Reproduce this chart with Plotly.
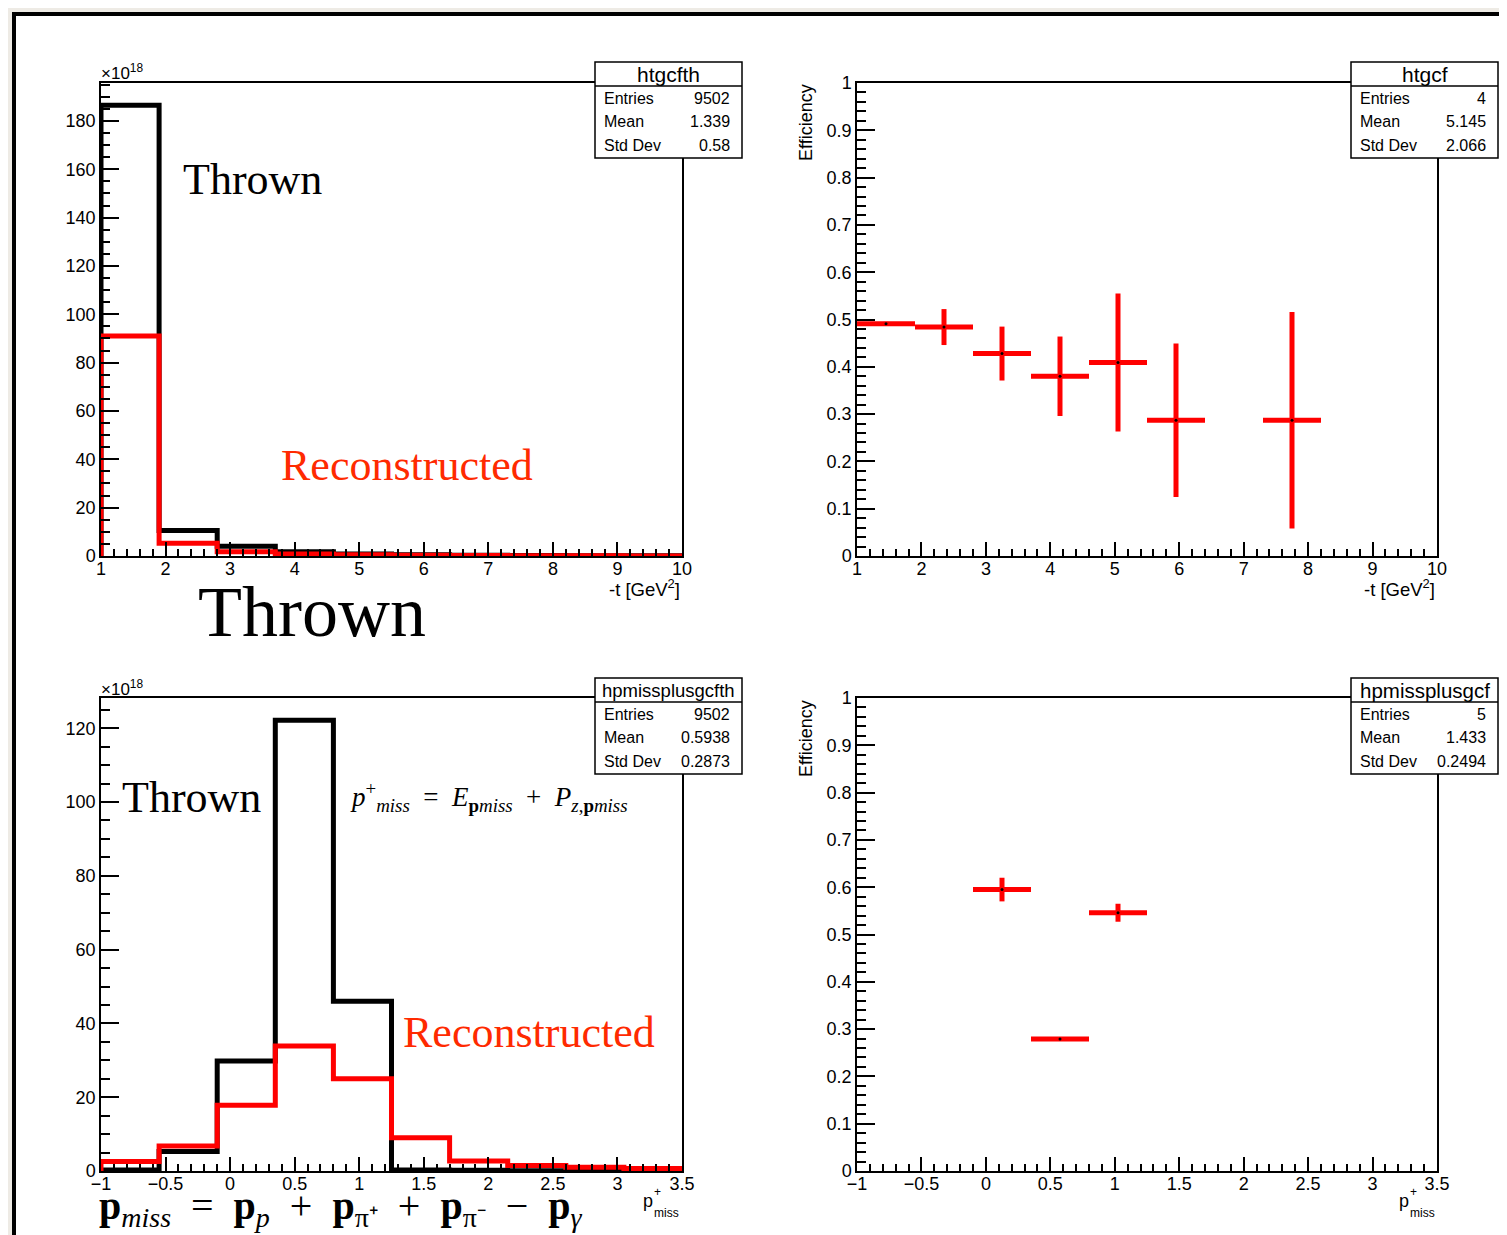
import plotly.graph_objects as go

# page body adds an 8px margin, so the figure is drawn from (8, 8)
OFF = 8
W, H = 1507 - OFF, 1235 - OFF

# ---------------- data ----------------
t_edges = [1.0, 1.9, 2.8, 3.7, 4.6, 5.5, 6.4, 7.3, 8.2, 9.1, 10.0]
t_thrown = [186.5, 10.5, 4.0, 1.8, 0.8, 0.5, 0.3, 0.2, 0.15, 0.1]
t_recon = [91.0, 5.3, 1.8, 0.8, 0.5, 0.3, 0.2, 0.15, 0.1, 0.05]

t_eff_x = [1.45, 2.35, 3.25, 4.15, 5.05, 5.95, 7.75]
t_eff = [0.491, 0.484, 0.428, 0.380, 0.409, 0.287, 0.287]
t_eff_err = [0.004, 0.038, 0.057, 0.084, 0.146, 0.162, 0.229]
t_bin_half = 0.45

p_edges = [-1.0, -0.55, -0.1, 0.35, 0.8, 1.25, 1.7, 2.15, 2.6, 3.05, 3.5]
p_thrown = [0.3, 5.3, 29.8, 122.2, 46.0, 0.3, 0.2, 0.1, 0.1, 0.1]
p_recon = [2.6, 6.8, 17.8, 33.9, 25.0, 9.0, 2.7, 1.5, 1.0, 0.7]

p_eff_x = [0.125, 0.575, 1.025]
p_eff = [0.595, 0.279, 0.546]
p_eff_err = [0.025, 0.004, 0.019]
p_bin_half = 0.225

stats = [
    ("htgcfth", ["9502", "1.339", "0.58"]),
    ("htgcf", ["4", "5.145", "2.066"]),
    ("hpmissplusgcfth", ["9502", "0.5938", "0.2873"]),
    ("hpmissplusgcf", ["5", "1.433", "0.2494"]),
]
stat_labels = ["Entries", "Mean", "Std Dev"]


def px(x):
    return (x - OFF) / W


def py(y):
    return 1 - (y - OFF) / H


def step(edges, vals):
    xs = [edges[0]] + list(edges[:-1]) + [edges[-1]]
    ys = [0] + list(vals) + [0]
    return xs, ys


fig = go.Figure()

RED = "#ff0000"
for vals, col in [(t_thrown, "black"), (t_recon, RED)]:
    xs, ys = step(t_edges, vals)
    fig.add_trace(go.Scatter(x=xs, y=ys, mode="lines", line=dict(color=col, width=5, shape="hv"),
                             xaxis="x", yaxis="y", showlegend=False, hoverinfo="skip"))
for vals, col in [(p_thrown, "black"), (p_recon, RED)]:
    xs, ys = step(p_edges, vals)
    fig.add_trace(go.Scatter(x=xs, y=ys, mode="lines", line=dict(color=col, width=5, shape="hv"),
                             xaxis="x3", yaxis="y3", showlegend=False, hoverinfo="skip"))
for xv, yv, ev, half, xa, ya in [(t_eff_x, t_eff, t_eff_err, t_bin_half, "x2", "y2"),
                                 (p_eff_x, p_eff, p_eff_err, p_bin_half, "x4", "y4")]:
    fig.add_trace(go.Scatter(
        x=xv, y=yv, mode="markers", marker=dict(color="black", size=3),
        error_x=dict(type="constant", value=half, thickness=5, width=0, color=RED),
        error_y=dict(type="data", array=ev, thickness=5, width=0, color=RED),
        xaxis=xa, yaxis=ya, showlegend=False, hoverinfo="skip"))

TF = dict(family="Liberation Sans, Arial, sans-serif", size=18, color="black")


def xax(dom, rng, dtick, mdtick, anchor):
    return dict(domain=[px(dom[0]), px(dom[1])], range=rng, dtick=dtick, tick0=0, anchor=anchor,
                showline=True, linecolor="black", linewidth=1.5, mirror=True, automargin=False,
                ticks="inside", ticklen=14, tickwidth=1.5, tickcolor="black", ticklabelstandoff=-4,
                showgrid=False, zeroline=False, tickfont=TF, fixedrange=True,
                minor=dict(ticks="inside", ticklen=7, tickwidth=1.5, tickcolor="black",
                           dtick=mdtick, tick0=0, showgrid=False))


def yax(dom, rng, dtick, mdtick, anchor):
    return dict(domain=[py(dom[1]), py(dom[0])], range=rng, dtick=dtick, tick0=0, anchor=anchor,
                showline=True, linecolor="black", linewidth=1.5, mirror=True, automargin=False,
                ticks="inside", ticklen=18, tickwidth=1.5, tickcolor="black",
                showgrid=False, zeroline=False, tickfont=TF, fixedrange=True,
                minor=dict(ticks="inside", ticklen=9, tickwidth=1.5, tickcolor="black",
                           dtick=mdtick, tick0=0, showgrid=False))


LX = (101, 682)
RX = (857, 1437)
TY = (83, 556)
BY = (698, 1171)

fig.update_layout(
    width=W, height=H, margin=dict(l=0, r=0, t=0, b=0, autoexpand=False),
    paper_bgcolor="#eeebe5", plot_bgcolor="rgba(0,0,0,0)",
    xaxis=xax(LX, [1, 10], 1, 0.2, "y"),
    yaxis=yax(TY, [0, 195.7], 20, 5, "x"),
    xaxis2=xax(RX, [1, 10], 1, 0.2, "y2"),
    yaxis2=yax(TY, [0, 1], 0.1, 0.02, "x2"),
    xaxis3=xax(LX, [-1, 3.5], 0.5, 0.1, "y3"),
    yaxis3=yax(BY, [0, 128.2], 20, 5, "x3"),
    xaxis4=xax(RX, [-1, 3.5], 0.5, 0.1, "y4"),
    yaxis4=yax(BY, [0, 1], 0.1, 0.02, "x4"),
)

shapes = []
ann = []

shapes.append(dict(type="rect", xref="paper", yref="paper", x0=px(14), x1=px(1540),
                   y0=py(1270), y1=py(14), fillcolor="white",
                   line=dict(color="black", width=4), layer="below"))

SANS = "Liberation Sans, Arial, sans-serif"
SERIF = "Liberation Serif, Times New Roman, serif"


def text(x, y, s, size, xanchor="center", yanchor="middle", color="black", family=SANS, angle=0):
    ann.append(dict(x=px(x), y=py(y), xref="paper", yref="paper", text=s, showarrow=False,
                    xanchor=xanchor, yanchor=yanchor, textangle=angle,
                    font=dict(family=family, size=size, color=color)))


boxes = [(595, 742, 62), (1351, 1498, 62), (595, 742, 678), (1351, 1498, 678)]
title_sizes = [21, 21, 18.5, 20.5]
for (x0, x1, y0), (title, vals), ts in zip(boxes, stats, title_sizes):
    y1 = y0 + 96
    ydiv = y0 + 24
    shapes.append(dict(type="rect", xref="paper", yref="paper", x0=px(x0), x1=px(x1),
                       y0=py(y1), y1=py(y0), fillcolor="white",
                       line=dict(color="black", width=1.5), layer="above"))
    shapes.append(dict(type="line", xref="paper", yref="paper", x0=px(x0), x1=px(x1),
                       y0=py(ydiv), y1=py(ydiv), line=dict(color="black", width=1.5), layer="above"))
    text((x0 + x1) / 2, y0 + 12, title, ts)
    for i, (lab, v) in enumerate(zip(stat_labels, vals)):
        yy = y0 + 36 + 23.5 * i
        text(x0 + 7, yy, lab, 16, xanchor="left")
        text(x1 - 10, yy, v, 16, xanchor="right")

for yy in (72, 688):
    text(99, yy, "×10<sup>18</sup>", 17, xanchor="left")
for xx in (682, 1437):
    text(xx, 588, "-t [GeV<sup>2</sup>]", 18.5, xanchor="right")
for xx in (681, 1437):
    text(xx - 33, 1201, "p", 18)
    text(xx - 24, 1192, "+", 12)
    text(xx, 1213, "miss", 12, xanchor="right")
for yy in (123, 739):
    text(806, yy, "Efficiency", 18, angle=-90)

text(252, 180, "Thrown", 44, family=SERIF)
text(407, 465, "Reconstructed", 44, family=SERIF, color="#ff2a00")
text(312, 612, "Thrown", 72, family=SERIF)
text(191, 797, "Thrown", 44, family=SERIF)
text(529, 1032, "Reconstructed", 44, family=SERIF, color="#ff2a00")
text(489, 797,
     "<i>p</i><sup>+</sup><sub><i>miss</i></sub> &nbsp;= &nbsp;<i>E</i><sub><b>p</b><i>miss</i></sub>"
     " &nbsp;+ &nbsp;<i>P</i><sub><i>z</i>,<b>p</b><i>miss</i></sub>", 27, family=SERIF)
text(341, 1208,
     "<b>p</b><sub><i>miss</i></sub> &nbsp;= &nbsp;<b>p</b><sub><i>p</i></sub> &nbsp;+ &nbsp;<b>p</b><sub>π⁺</sub>"
     " &nbsp;+ &nbsp;<b>p</b><sub>π⁻</sub> &nbsp;− &nbsp;<b>p</b><sub><i>γ</i></sub>", 40, family=SERIF)

fig.update_layout(shapes=shapes, annotations=ann)
fig.write_html("out.html")
